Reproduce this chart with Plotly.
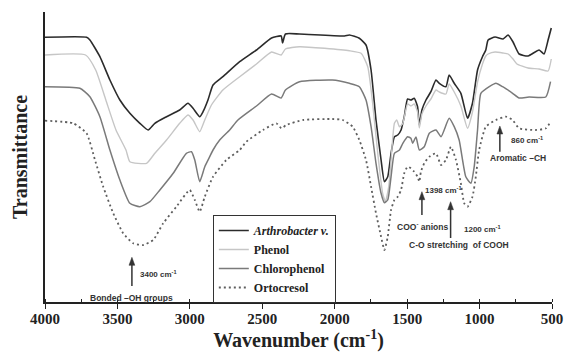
import plotly.graph_objects as go

# FTIR spectra (transmittance, arbitrary offset units) vs wavenumber (cm-1)
wn_arthro = [4000, 3713, 3690, 3621, 3552, 3483, 3414, 3345, 3288, 3242, 3161, 3070, 3013, 2978,
             2932, 2909, 2875, 2840, 2772, 2656, 2540, 2436, 2370, 2360, 2340, 2243, 1933, 1899,
             1830, 1784, 1749, 1715, 1680, 1657, 1634, 1611, 1588, 1565, 1542, 1520, 1497, 1474,
             1451, 1428, 1416, 1398, 1370, 1336, 1301, 1278, 1232, 1210, 1175, 1129, 1083, 1049,
             1014, 980, 957, 941, 893, 838, 803, 769, 727, 665, 589, 555, 527, 505]
t_arthro = [264.7, 264.7, 262, 245.3, 222, 202, 188.7, 178.7, 172, 178.7, 185.3, 192, 198.7, 193.7,
            185.3, 190.3, 202, 217, 225.3, 240.3, 252, 264, 266, 259, 268, 268, 266, 267,
            263.7, 257, 232, 182, 142, 120.3, 125.3, 148.7, 165.3, 167, 172, 185.3, 203, 202,
            203.7, 195.3, 177, 192, 202, 210.3, 222, 218.7, 215.3, 227, 218.7, 208.7, 183.7, 198.7,
            232, 245.3, 252, 262, 265, 263, 267, 260, 248, 246, 252, 248, 262, 274]

wn_phenol = [4000, 3720, 3650, 3580, 3510, 3441, 3414, 3299, 3242, 3161, 3070, 3013, 2978, 2932,
             2897, 2851, 2772, 2656, 2540, 2436, 2370, 2340, 2243, 1899, 1818, 1772, 1738, 1703,
             1669, 1650, 1627, 1611, 1588, 1572, 1553, 1530, 1497, 1474, 1451, 1428, 1416, 1398,
             1370, 1336, 1301, 1278, 1232, 1210, 1175, 1129, 1083, 1049, 1014, 980, 957, 941,
             893, 838, 803, 769, 742, 665, 589, 527, 505]
t_phenol = [247, 247, 232, 202, 172, 152, 140.3, 138.7, 148.7, 162, 178.7, 187, 182, 170.3,
            182, 197, 212, 225.3, 238, 250, 247, 253, 255.3, 251.3, 248.7, 235.3, 198.7, 148.7,
            108.7, 100.3, 115.3, 142, 178.7, 182, 175.3, 178.7, 198, 196, 198, 190, 174, 188,
            196, 203, 212, 210, 208, 218, 210, 196, 173.7, 190, 220, 238, 246, 248,
            250, 249, 248, 243, 238, 234, 233, 231, 243]

wn_chloro = [4000, 3759, 3690, 3621, 3552, 3483, 3414, 3345, 3276, 3207, 3115, 3024, 2989, 2966,
             2932, 2897, 2863, 2840, 2794, 2725, 2668, 2540, 2436, 2370, 2340, 2243, 2016, 1899,
             1830, 1784, 1749, 1715, 1680, 1657, 1634, 1611, 1588, 1553, 1530, 1497, 1474, 1462,
             1439, 1416, 1382, 1347, 1301, 1266, 1210, 1175, 1141, 1095, 1060, 1037, 1014, 991,
             933, 887, 841, 772, 727, 658, 543, 510]
t_chloro = [215.3, 213.7, 205.3, 185.3, 152, 122, 98.7, 95.3, 100.3, 112, 128.7, 148.7, 150.3, 142,
            120.3, 135.3, 145.3, 152, 162, 172, 182, 196, 208, 204, 212, 220.3, 222, 218.7,
            215.3, 202, 175.3, 138.7, 108.7, 99.3, 102, 125.3, 148.7, 152, 158.7, 165.3, 163.7, 158.7,
            165, 152, 155.3, 168.7, 172, 165.3, 183.7, 175.3, 162, 125.3, 118.7, 135.3, 172, 208.7,
            215.3, 218.7, 215.3, 208.7, 204, 205, 205, 220.3]

wn_orto = [4000, 3805, 3713, 3655, 3598, 3529, 3460, 3391, 3322, 3253, 3184, 3093, 3001, 2966,
           2932, 2897, 2840, 2748, 2656, 2610, 2495, 2403, 2368, 2334, 2219, 2016, 1945, 1876,
           1830, 1784, 1749, 1715, 1680, 1657, 1634, 1611, 1588, 1565, 1542, 1520, 1497, 1474,
           1451, 1428, 1416, 1405, 1382, 1347, 1301, 1266, 1232, 1198, 1163, 1129, 1106, 1083,
           1049, 1026, 1003, 957, 887, 818, 772, 727, 612, 543, 508]
t_orto = [181.3, 178.7, 168.7, 142, 115.3, 88.7, 68.7, 58.7, 57, 62, 78.7, 95.3, 112, 102,
          90.3, 105.3, 125.3, 142, 152, 160.3, 172, 178.7, 173.7, 177, 182, 183, 182, 175.3,
          162, 142, 115.3, 88.7, 65.3, 52, 65.3, 92, 102, 105.3, 112, 128.7, 135.3, 133.7,
          130.3, 125.3, 120.3, 130.3, 138.7, 145.3, 148.7, 137, 142, 155.3, 142, 118.7, 98.7, 95.3,
          105.3, 125.3, 152, 175.3, 182, 185.3, 182, 173.7, 172, 173.7, 180.3]

x_ticks = [4000, 3500, 3000, 2500, 2000, 1500, 1000, 500]

SERIF = "Liberation Serif, Times New Roman, serif"
SANS = "Liberation Sans, Arial, sans-serif"
INK = "#222222"
ARROW = "#333333"

fig = go.Figure()
fig.add_trace(go.Scatter(x=wn_arthro, y=t_arthro, mode="lines",
                         name="<i>Arthrobacter v.</i>",
                         line=dict(color="#2b2b2b", width=1.6, shape="spline", smoothing=0.5)))
fig.add_trace(go.Scatter(x=wn_phenol, y=t_phenol, mode="lines", name="Phenol",
                         line=dict(color="#c6c6c6", width=1.4, shape="spline", smoothing=0.5)))
fig.add_trace(go.Scatter(x=wn_chloro, y=t_chloro, mode="lines", name="Chlorophenol",
                         line=dict(color="#7a7a7a", width=1.5, shape="spline", smoothing=0.5)))
fig.add_trace(go.Scatter(x=wn_orto, y=t_orto, mode="lines", name="Ortocresol",
                         line=dict(color="#5e5e5e", width=1.8, dash="2px,3px",
                                   shape="spline", smoothing=0.5)))

# band assignments: upward arrows toward the absorption bands
bands = [
    # (wavenumber, tail, head, value label (x, y), description (x, y, text))
    (3400, 16, 44.7, (3359, 28), (3403, 4, "Bonded –OH groups")),
    (1398, 87, 110.3, (1389, 112), (1396, 76, "COO<sup>-</sup> anions")),
    (1200, 64, 100.3, (1120, 73), (1141, 57.5, "C-O stretching  of COOH")),
    (860, 150.3, 176, (796, 162), (734, 144, "Aromatic –CH")),
]
HEAD_W = 20   # half width of the arrow head, cm-1
HEAD_H = 8    # arrow head length, y units
for wn, tail, head, (lx, ly), (dx, dy, desc) in bands:
    fig.add_shape(type="line", xref="x", yref="y", x0=wn, x1=wn, y0=tail, y1=head - HEAD_H + 1,
                  line=dict(color=ARROW, width=1.5))
    fig.add_shape(type="path", xref="x", yref="y",
                  path=f"M {wn - HEAD_W},{head - HEAD_H} L {wn + HEAD_W},{head - HEAD_H} L {wn},{head} Z",
                  fillcolor=ARROW, line=dict(color=ARROW, width=0.5))
    fig.add_annotation(x=lx, y=ly, xref="x", yref="y", xanchor="left", yanchor="middle",
                       text=f"{wn} cm<sup>-1</sup>", showarrow=False,
                       font=dict(family=SANS, size=8, color=ARROW, weight="bold"))
    fig.add_annotation(x=dx, y=dy, xref="x", yref="y", xanchor="center", yanchor="middle",
                       text=desc, showarrow=False,
                       font=dict(family=SANS, size=8.5, color=ARROW, weight="bold"))

fig.update_layout(
    width=565, height=361,
    margin=dict(l=45, r=13, t=12, b=59),
    paper_bgcolor="white", plot_bgcolor="white",
    showlegend=True,
    legend=dict(x=0.331, y=0.30, xanchor="left", yanchor="top",
                bgcolor="white", bordercolor="#333333", borderwidth=1,
                font=dict(family=SERIF, size=12, color=INK, weight="bold"),
                itemwidth=30, tracegroupgap=0),
    xaxis=dict(range=[4000, 500], tickvals=x_ticks, ticktext=[str(v) for v in x_ticks],
               showgrid=False, zeroline=False, showline=True, linecolor=INK, linewidth=1.5,
               ticks="outside", ticklen=5, tickwidth=1.3, tickcolor=INK, ticklabelstandoff=-3,
               minor=dict(dtick=250, tick0=500, ticks="inside", ticklen=3, tickcolor=INK),
               tickfont=dict(family=SERIF, size=15, color=INK, weight="bold"),
               title=dict(text="Wavenumber (cm<sup>-1</sup>)", standoff=6,
                          font=dict(family=SERIF, size=20, color=INK, weight="bold")),
               automargin=False),
    yaxis=dict(range=[0, 290], showgrid=False, zeroline=False, showline=True,
               linecolor=INK, linewidth=1.5, showticklabels=False, ticks="",
               title=dict(text="Transmittance", standoff=10,
                          font=dict(family=SERIF, size=20, color=INK, weight="bold")),
               automargin=False),
)

fig.write_html("out.html")
